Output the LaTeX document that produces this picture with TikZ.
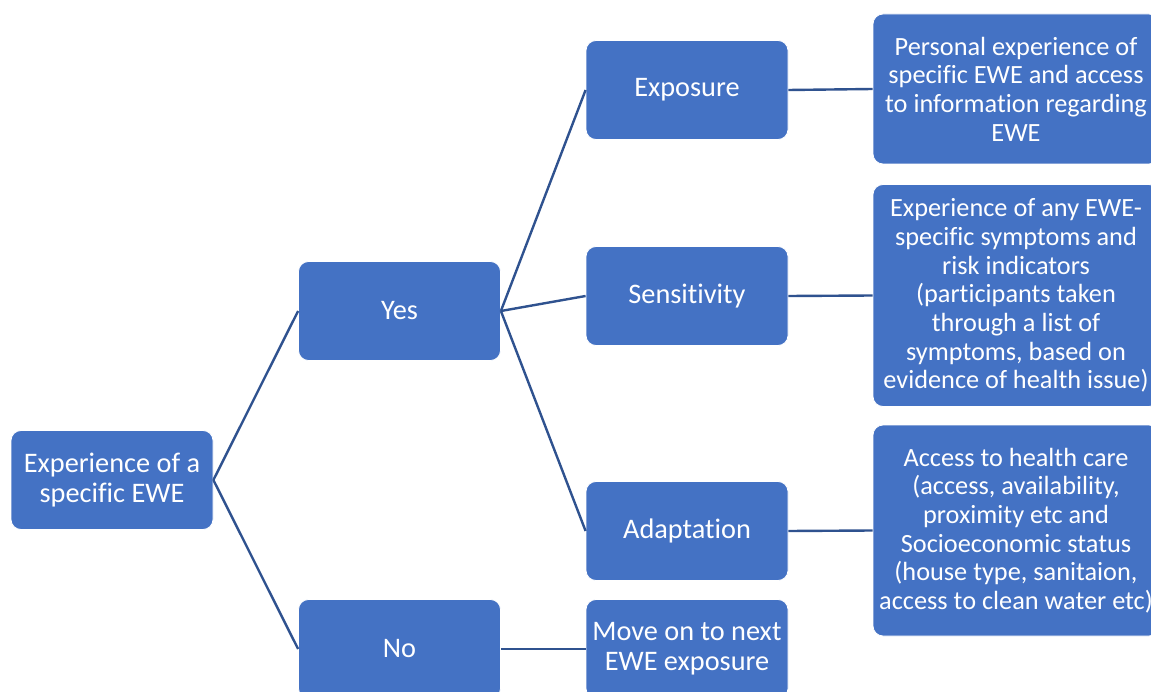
\documentclass[tikz,border=0pt]{standalone}
\usepackage{fontspec}
\setmainfont{Carlito}[Ligatures=NoCommon]
\usetikzlibrary{positioning}
\definecolor{boxblue}{HTML}{4472C4}
\definecolor{linkblue}{HTML}{2F528F}

\begin{document}
\begin{tikzpicture}[
        x=1pt, y=-1pt,
        every node/.style={rectangle, rounded corners=10pt, fill=boxblue, draw=white, line width=0.8pt,
            text=white, align=center, inner sep=4pt},
        stage/.style={minimum width=202pt, minimum height=99pt, font=\fontsize{28.3}{30}\selectfont},
        detail/.style={minimum width=286pt, font=\fontsize{26.3}{28.7}\selectfont},
        link/.style={draw=linkblue, line width=2.4pt}
    ]
        \useasboundingbox (0,0) rectangle (1151,692);
        \clip (0,0) rectangle (1151,692);

        % Boxes of the tree
        \node [stage] (root) at (112,480) {Experience of a\\specific EWE};
        \node [stage] (yes) at (399.5,311) {Yes};
        \node [stage] (no) at (399.5,649) {No};
        \node [stage] (expo) at (687,90) {Exposure};
        \node [stage] (sens) at (687,296) {Sensitivity};
        \node [stage] (adap) at (687,531) {Adaptation};
        \node [stage] (next) at (687,649) {Move on to next\\EWE exposure};

        % Descriptions on the right
        \node [detail, minimum height=150pt] (expoD) at (1016,89)
            {Personal experience of\\specific EWE and access\\to information regarding\\EWE};
        \node [detail, minimum height=222pt] (sensD) at (1016,295.5)
            {Experience of any EWE-\\specific symptoms and\\risk indicators\\(participants taken\\through a list of\\symptoms, based on\\evidence of health issue)};
        \node [detail, minimum height=211pt] (adapD) at (1016,530.5)
            {Access to health care\\(access, availability,\\proximity etc and\\Socioeconomic status\\(house type, sanitaion,\\access to clean water etc)};

        % Links
        \draw[link] (root.east) -- (yes.west);
        \draw[link] (root.east) -- (no.west);
        \draw[link] (yes.east) -- (expo.west);
        \draw[link] (yes.east) -- (sens.west);
        \draw[link] (yes.east) -- (adap.west);
        \draw[link] (no.east) -- (next.west);
        \draw[link] (expo.east) -- (expoD.west);
        \draw[link] (sens.east) -- (sensD.west);
        \draw[link] (adap.east) -- (adapD.west);
    \end{tikzpicture}
\end{document}
